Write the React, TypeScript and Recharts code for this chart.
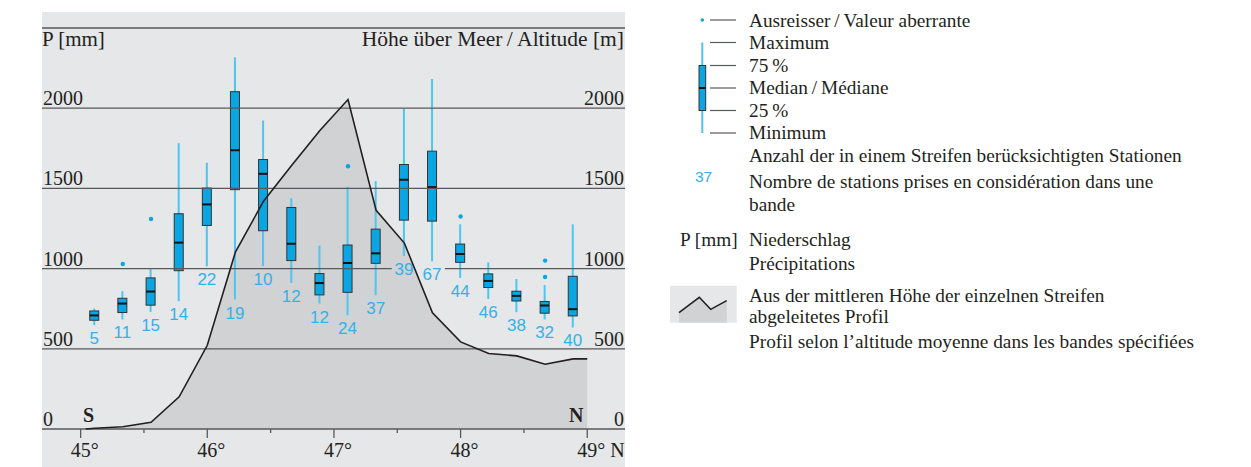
import React from 'react';
import { ComposedChart, Area, Line, Bar, Scatter, XAxis, YAxis, ReferenceLine, LabelList } from 'recharts';

// band centres (° N) and box statistics of the precipitation per band
const bandLat = [45.111, 45.333, 45.556, 45.778, 46.0, 46.222, 46.444, 46.667, 46.889, 47.111, 47.333, 47.556, 47.778, 48.0, 48.222, 48.444, 48.667, 48.889];
const stationCounts = [5, 11, 15, 14, 22, 19, 10, 12, 12, 24, 37, 39, 67, 44, 46, 38, 32, 40];
const pMin = [647, 683, 730, 797, 1014, 807, 1016, 910, 782, 709, 834, 1078, 1045, 942, 811, 728, 683, 633];
const pQ1 = [678, 726, 772, 987, 1269, 1492, 1236, 1050, 836, 852, 1033, 1302, 1296, 1039, 882, 798, 722, 705];
const pMedian = [708, 782, 857, 1162, 1400, 1738, 1591, 1155, 910, 1035, 1095, 1554, 1508, 1091, 923, 830, 770, 747];
const pQ3 = [736, 815, 942, 1342, 1502, 2103, 1680, 1381, 969, 1147, 1246, 1649, 1732, 1153, 967, 859, 795, 952];
const pMax = [751, 859, 996, 1782, 1660, 2317, 1923, 1439, 1143, 1510, 1545, 1996, 2182, 1276, 1039, 935, 898, 1276];

// outliers
const outlierLat = [45.333, 45.556, 47.111, 48.0, 48.667, 48.667];
const outlierP = [1029, 1309, 1638, 1325, 1050, 948];

// mean altitude profile (m)
const profileLat = [45.04, 45.111, 45.333, 45.556, 45.778, 46.0, 46.222, 46.444, 46.667, 46.889, 47.111, 47.333, 47.556, 47.778, 48.0, 48.222, 48.444, 48.667, 48.889, 49.0];
const profileAlt = [0, 5, 14, 42, 201, 522, 1103, 1420, 1644, 1861, 2054, 1363, 1159, 724, 543, 471, 456, 404, 437, 437];

const gridValues = [0, 500, 1500, 2000, 2500];
const yTicks = [0, 500, 1000, 1500, 2000];
const xTicks = [45, 45.5, 46, 46.5, 47, 47.5, 48, 48.5, 49];
const xMajor = [45, 46, 47, 48, 49];
const xTickLabels = ['45°', '46°', '47°', '48°', '49° N'];
const X_DOMAIN = [44.695, 49.298];
// the 1000 line is interrupted behind the labels "39" and "67"
const GAP_1000 = [47.456, 47.876];

const boxData = bandLat.map((lat, i) => ({
  lat,
  range: [pMin[i], pMax[i]],
  min: pMin[i],
  q1: pQ1[i],
  median: pMedian[i],
  q3: pQ3[i],
  max: pMax[i],
  count: stationCounts[i],
}));
const profileData = profileLat.map((lat, i) => ({ lat, alt: profileAlt[i] }));
const outlierData = outlierLat.map((lat, i) => ({ lat, p: outlierP[i] }));

const SERIF = '"Liberation Serif", "Times New Roman", serif';
const SANS = '"Liberation Sans", Arial, sans-serif';
const INK = '#231f20';
const GRID = '#58595b';
const PANEL = '#e6e7e8';
const RELIEF = '#d1d2d4';
const BOX = '#0aa6e2';
const WHISKER = '#4dc6f4';
const LABEL = '#33b1e8';

const BoxShape = (props: any) => {
  const { x, y, width, height, payload } = props;
  if (!payload) return null;
  const top = Math.min(y, y + height);
  const h = Math.abs(height);
  const cx = x + width / 2;
  const pix = (v: number) => top + ((payload.max - v) / (payload.max - payload.min)) * h;
  const bw = 9;
  return (
    <g>
      <line x1={cx} x2={cx} y1={top} y2={top + h} stroke={WHISKER} strokeWidth={2} />
      <rect x={cx - bw / 2} y={pix(payload.q3)} width={bw} height={pix(payload.q1) - pix(payload.q3)} fill={BOX} stroke="#333" strokeWidth={1} />
      <line x1={cx - bw / 2} x2={cx + bw / 2} y1={pix(payload.median)} y2={pix(payload.median)} stroke="#111" strokeWidth={2} />
    </g>
  );
};

const CountLabel = (props: any) => {
  const { x, y, width, height, value } = props;
  const bottom = Math.max(y, y + height);
  return (
    <text x={x + width / 2} y={bottom + 19} textAnchor="middle" fontFamily={SANS} fontSize={17} fill={LABEL}>
      {value}
    </text>
  );
};

const XTick = (props: any) => {
  const { x, payload } = props;
  const v = payload.value;
  const idx = xMajor.indexOf(v);
  return (
    <g>
      <line x1={x} x2={x} y1={429} y2={429 + (idx >= 0 ? 9 : 4)} stroke={GRID} strokeWidth={1.3} />
      {idx >= 0 && (
        <text x={x - 10} y={457} fontFamily={SERIF} fontSize={20} fill={INK}>
          {xTickLabels[idx]}
        </text>
      )}
    </g>
  );
};

const LeftTick = (props: any) => {
  const { y, payload } = props;
  return (
    <text x={43} y={y - 3} fontFamily={SERIF} fontSize={20} fill={INK}>
      {payload.value}
    </text>
  );
};

const RightTick = (props: any) => {
  const { y, payload } = props;
  return (
    <text x={624} y={y - 3} textAnchor="end" fontFamily={SERIF} fontSize={20} fill={INK}>
      {payload.value}
    </text>
  );
};

const OutlierDot = (props: any) => <circle cx={props.cx} cy={props.cy} r={2.2} fill={BOX} />;

function Legend() {
  const rowLines = [20, 42.5, 65.5, 88, 110.5, 133];
  const t = { fontFamily: SERIF, fontSize: 19.3, fill: INK } as const;
  return (
    <svg width={591} height={467} style={{ position: 'absolute', left: 660, top: 0 }}>
      <circle cx={42.3} cy={20} r={1.8} fill={BOX} />
      <line x1={42.3} x2={42.3} y1={42.5} y2={133} stroke={WHISKER} strokeWidth={2} />
      <rect x={39} y={65.5} width={6.7} height={45} fill={BOX} stroke="#333" strokeWidth={1} />
      <line x1={39} x2={45.7} y1={88} y2={88} stroke="#111" strokeWidth={2} />
      {rowLines.map((ly) => (
        <line key={ly} x1={50} x2={76} y1={ly} y2={ly} stroke={GRID} strokeWidth={1.2} />
      ))}
      <text x={89} y={27} {...t}>Ausreisser{'\u2009/\u2009'}Valeur aberrante</text>
      <text x={89} y={49.3} {...t}>Maximum</text>
      <text x={89} y={71.7} {...t}>75{'\u2009'}%</text>
      <text x={89} y={93.5} {...t}>Median{'\u2009/\u2009'}Médiane</text>
      <text x={89} y={116.5} {...t}>25{'\u2009'}%</text>
      <text x={89} y={139.3} {...t}>Minimum</text>

      <text x={43.5} y={181.7} textAnchor="middle" fontFamily={SANS} fontSize={15.5} fill={LABEL}>37</text>
      <text x={89} y={162.3} {...t}>Anzahl der in einem Streifen berücksichtigten Stationen</text>
      <text x={89} y={187.7} {...t}>Nombre de stations prises en considération dans une</text>
      <text x={89} y={210.5} {...t}>bande</text>

      <text x={20} y={246} {...t}>P [mm]</text>
      <text x={89} y={246} {...t}>Niederschlag</text>
      <text x={89} y={270} {...t}>Précipitations</text>

      <rect x={10} y={285.7} width={66.7} height={37} fill={PANEL} />
      <polygon points="19,312.7 39.3,297.3 50.7,309.3 66.7,300.7 66.7,322.7 19,322.7" fill={RELIEF} />
      <polyline points="19,312.7 39.3,297.3 50.7,309.3 66.7,300.7" fill="none" stroke={INK} strokeWidth={1.5} />
      <text x={89} y={301.7} {...t}>Aus der mittleren Höhe der einzelnen Streifen</text>
      <text x={89} y={322.7} {...t}>abgeleitetes Profil</text>
      <text x={89} y={348.3} {...t}>Profil selon l’altitude moyenne dans les bandes spécifiées</text>
    </svg>
  );
}

export default function App() {
  return (
    <div style={{ position: 'absolute', left: 0, top: 0, width: 1251, height: 467, background: '#fff', overflow: 'hidden' }}>
      <div style={{ position: 'absolute', left: 42, top: 12, width: 583, height: 455, background: PANEL }} />
      <div style={{ position: 'absolute', left: 0, top: 0 }}>
        <ComposedChart width={640} height={467} data={boxData} margin={{ top: 28, right: 5, bottom: 28, left: 32 }}>
          <XAxis
            dataKey="lat"
            type="number"
            domain={X_DOMAIN}
            allowDataOverflow
            ticks={xTicks}
            interval={0}
            height={10}
            axisLine={false}
            tickLine={false}
            tick={<XTick />}
          />
          <YAxis yAxisId="p" type="number" domain={[0, 2500]} ticks={yTicks} interval={0} width={10} axisLine={false} tickLine={false} tick={<LeftTick />} />
          <YAxis yAxisId="alt" orientation="right" type="number" domain={[0, 2500]} ticks={yTicks} interval={0} width={10} axisLine={false} tickLine={false} tick={<RightTick />} />

          <Area yAxisId="alt" data={profileData} dataKey="alt" type="linear" stroke="none" fill={RELIEF} fillOpacity={1} isAnimationActive={false} />
          {gridValues.map((v) => (
            <ReferenceLine key={v} yAxisId="p" y={v} stroke={GRID} strokeWidth={1.3} />
          ))}
          <ReferenceLine yAxisId="p" segment={[{ x: X_DOMAIN[0], y: 1000 }, { x: GAP_1000[0], y: 1000 }]} stroke={GRID} strokeWidth={1.3} />
          <ReferenceLine yAxisId="p" segment={[{ x: GAP_1000[1], y: 1000 }, { x: X_DOMAIN[1], y: 1000 }]} stroke={GRID} strokeWidth={1.3} />
          <Line yAxisId="alt" data={profileData} dataKey="alt" type="linear" stroke={INK} strokeWidth={1.6} dot={false} isAnimationActive={false} />
          <Bar yAxisId="p" dataKey="range" barSize={9} shape={<BoxShape />} isAnimationActive={false}>
            <LabelList dataKey="count" content={<CountLabel />} />
          </Bar>
          <Scatter yAxisId="p" data={outlierData} dataKey="p" shape={<OutlierDot />} isAnimationActive={false} />
        </ComposedChart>
      </div>
      <svg width={640} height={467} style={{ position: 'absolute', left: 0, top: 0, pointerEvents: 'none' }}>
        <text x={42} y={46} fontFamily={SERIF} fontSize={21} fill={INK}>P [mm]</text>
        <text x={624} y={45.5} textAnchor="end" fontFamily={SERIF} fontSize={21.5} fill={INK}>Höhe über Meer{'\u2009/\u2009'}Altitude [m]</text>
        <text x={83} y={422.3} fontFamily={SERIF} fontSize={20} fontWeight="bold" fill={INK}>S</text>
        <text x={569} y={422.3} fontFamily={SERIF} fontSize={20} fontWeight="bold" fill={INK}>N</text>
      </svg>
      <Legend />
    </div>
  );
}
